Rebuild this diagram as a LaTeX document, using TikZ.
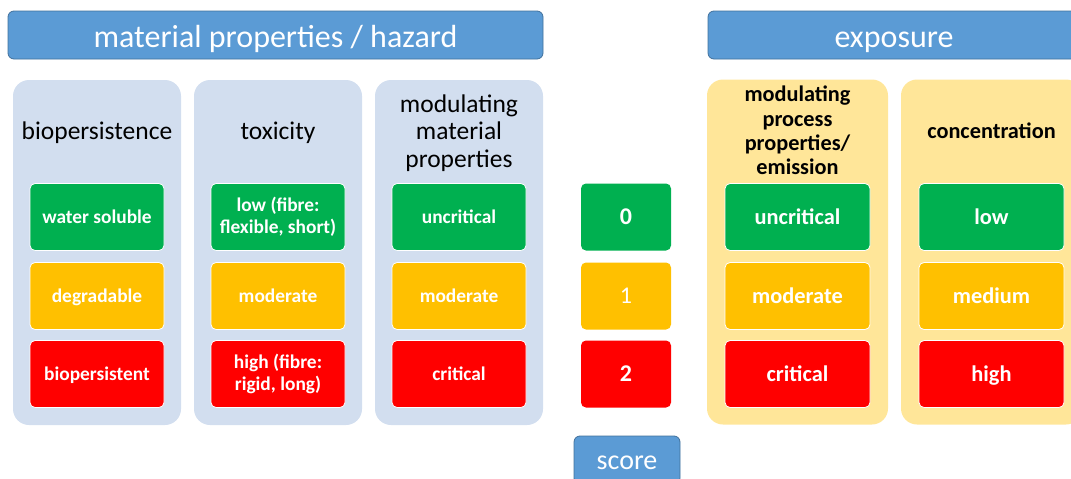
\documentclass[tikz,border=0pt]{standalone}
\usepackage{fontspec}
\setmainfont{Carlito}
\definecolor{hdrblue}{HTML}{5B9BD5}
\definecolor{hdrline}{HTML}{41719C}
\definecolor{hazfill}{HTML}{D2DEEF}
\definecolor{expfill}{HTML}{FFE699}
\definecolor{lvgreen}{HTML}{00B050}
\definecolor{lvorange}{HTML}{FFC000}
\definecolor{lvred}{HTML}{FF0000}
\begin{document}
\begin{tikzpicture}[x=1pt,y=-1pt,
		header/.style={draw=hdrline,line width=.8pt,fill=hdrblue,rounded corners=6pt,text=white,minimum height=48pt,inner sep=0pt,text height=24pt,text depth=0pt,font=\fontsize{32}{38}\selectfont},
		colpanel/.style={rounded corners=16pt,minimum height=345pt,inner sep=0pt},
		coltitle/.style={align=center,inner sep=0pt},
		hazfont/.style={coltitle,font=\fontsize{25.5}{27.5}\selectfont},
		hazhead/.style={hazfont,text height=17.9pt,text depth=0pt},
		exphead/.style={coltitle,font=\bfseries\fontsize{22.3}{24.3}\selectfont},
		level/.style={draw=white,line width=.8pt,rounded corners=5pt,minimum height=67pt,inner sep=0pt,text=white,align=center},
		hazbox/.style={level,minimum width=134pt,font=\bfseries\fontsize{19.4}{21.7}\selectfont},
		hazlevel/.style={hazbox,text height=13.6pt,text depth=0pt},
		explevel/.style={level,minimum width=145pt,text height=15.7pt,text depth=0pt,font=\bfseries\fontsize{22.4}{26}\selectfont},
		scorelevel/.style={level,draw=none,minimum width=90pt,text height=15.3pt,text depth=0pt}]
		\useasboundingbox (0,0) rectangle (1071,479);
		\node[header,minimum width=535pt](hazard) at(275.5,35){material properties / hazard};
		\node[header,minimum width=372pt](exposure) at(894,35){exposure};
		\node[header,minimum width=106pt,text height=19pt,font=\fontsize{28}{32}\selectfont](score) at(627,460){score};
		\foreach \x/\n in {97/1,278/2,459/3}
		\node[colpanel,fill=hazfill,minimum width=168pt](hp\n) at(\x,252.5){};
		\foreach \x/\n in {797.5/1,991.5/2}
		\node[colpanel,fill=expfill,minimum width=181pt](ep\n) at(\x,252){};
		\node[hazhead](ht1) at(97,131){biopersistence};
		\node[hazhead](ht2) at(278,131){toxicity};
		\node[hazfont](ht3) at(459,133){modulating\\material\\properties};
		\node[exphead](et1) at(797.5,130.5){modulating\\process\\properties/\\emission};
		\node[exphead](et2) at(991.5,131){concentration};
		\node[hazlevel,fill=lvgreen](hg1) at(97,217){water soluble};
		\node[hazlevel,fill=lvorange](ho1) at(97,296){degradable};
		\node[hazlevel,fill=lvred](hr1) at(97,374){biopersistent};
		\node[hazbox,fill=lvgreen](hg2) at(278,217){low (fibre:\\flexible, short)};
		\node[hazlevel,fill=lvorange](ho2) at(278,296){moderate};
		\node[hazbox,fill=lvred](hr2) at(278,374){high (fibre:\\rigid, long)};
		\node[hazlevel,fill=lvgreen](hg3) at(459,217){uncritical};
		\node[hazlevel,fill=lvorange](ho3) at(459,296){moderate};
		\node[hazlevel,fill=lvred](hr3) at(459,374){critical};
		\foreach \x/\n/\lo/\mid/\hi in {797.5/1/uncritical/moderate/critical,991.5/2/low/medium/high}{
			\node[explevel,fill=lvgreen](eg\n) at(\x,217){\lo};
			\node[explevel,fill=lvorange](eo\n) at(\x,296){\mid};
			\node[explevel,fill=lvred](er\n) at(\x,374){\hi};
		}
		\node[scorelevel,fill=lvgreen,font=\bfseries\fontsize{24}{28}\selectfont](s0) at(626,217){0};
		\node[scorelevel,fill=lvorange,font=\fontsize{24}{28}\selectfont](s1) at(626,296){1};
		\node[scorelevel,fill=lvred,font=\bfseries\fontsize{24}{28}\selectfont](s2) at(626,374){2};
	\end{tikzpicture}
\end{document}
